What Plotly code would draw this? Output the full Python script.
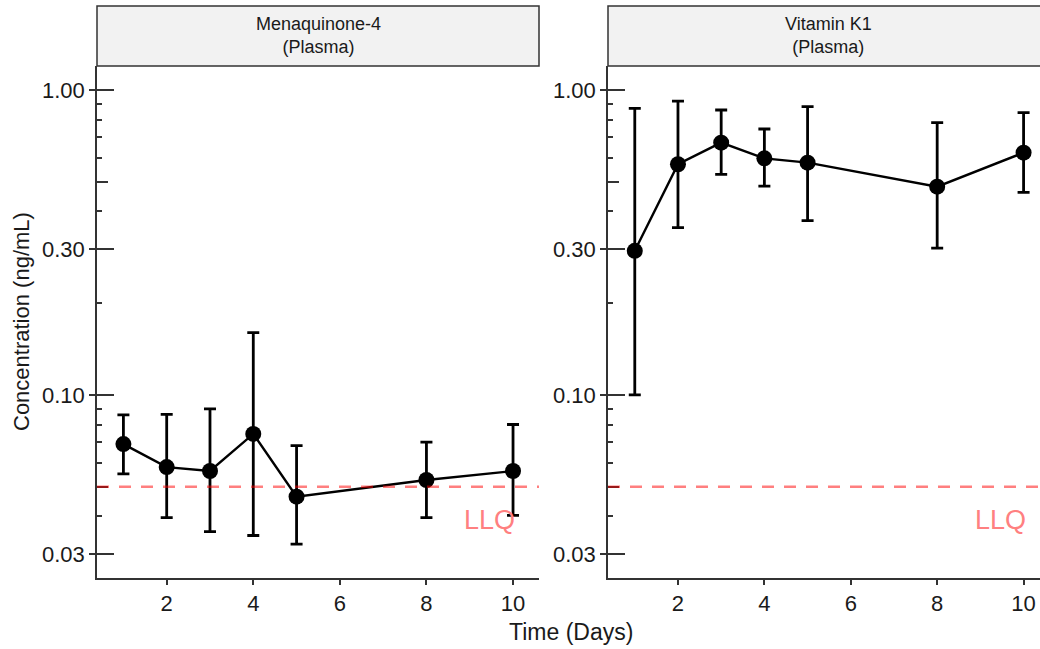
import numpy as np
import plotly.graph_objects as go

# Sampling days
days = [1, 2, 3, 4, 5, 8, 10]

# Menaquinone-4 (plasma): mean and error-bar limits, ng/mL
mk4_mean = [0.069, 0.058, 0.0563, 0.0745, 0.0464, 0.0526, 0.0563]
mk4_low = [0.0551, 0.0396, 0.0356, 0.0346, 0.0324, 0.0396, 0.0403]
mk4_high = [0.086, 0.0863, 0.090, 0.160, 0.0682, 0.070, 0.080]

# Vitamin K1 (plasma): mean and error-bar limits, ng/mL
k1_mean = [0.297, 0.571, 0.672, 0.597, 0.578, 0.482, 0.623]
k1_low = [0.100, 0.354, 0.529, 0.484, 0.373, 0.303, 0.462]
k1_high = [0.871, 0.920, 0.860, 0.745, 0.882, 0.782, 0.843]

# Lower limit of quantification
LLQ = 0.05

panel_titles = ["Menaquinone-4<br>(Plasma)", "Vitamin K1<br>(Plasma)"]
x_ticks = [2, 4, 6, 8, 10]
y_major = [0.03, 0.1, 0.3, 1.0]
y_major_text = ["0.03", "0.10", "0.30", "1.00"]
y_mid = [0.05, 0.5]
y_minor = [0.04, 0.06, 0.07, 0.08, 0.09, 0.2, 0.4, 0.6, 0.7, 0.8, 0.9]

W, H = 1040, 649
AXIS_COLOR = "#333333"
TEXT_COLOR = "#1a1a1a"
LLQ_COLOR = "rgba(255,0,0,0.5)"
FONT = "Liberation Sans, Arial, sans-serif"


def px_x(p):
    return p / W


def px_y(p):
    return 1 - p / H


y_dom = [px_y(578), px_y(66)]
x_doms = [[px_x(97), px_x(539)], [px_x(608), 1.0]]
x_ranges = [[0.39, 10.6], [0.38, 10.38]]
y_range = [np.log10(0.0251), np.log10(1.199)]

fig = go.Figure()

series = [(mk4_mean, mk4_low, mk4_high), (k1_mean, k1_low, k1_high)]
for i, (mean, low, high) in enumerate(series):
    xa = "x" if i == 0 else "x2"
    ya = "y" if i == 0 else "y2"
    mean_a = np.array(mean)
    fig.add_trace(go.Scatter(
        x=days, y=mean, xaxis=xa, yaxis=ya, mode="lines+markers",
        line=dict(color="black", width=2.4),
        marker=dict(color="black", size=16),
        error_y=dict(type="data", symmetric=False,
                     array=np.array(high) - mean_a,
                     arrayminus=mean_a - np.array(low),
                     color="black", thickness=2.8, width=6),
        showlegend=False, cliponaxis=False,
    ))
    # empty trace so the companion tick axis is drawn
    fig.add_trace(go.Scatter(
        x=[], y=[], xaxis=xa, yaxis="y" + str(3 + i), mode="markers",
        showlegend=False, hoverinfo="skip",
    ))

layout = dict(
    width=W, height=H,
    margin=dict(l=0, r=0, t=0, b=0),
    paper_bgcolor="white", plot_bgcolor="white",
    font=dict(family=FONT, color=TEXT_COLOR),
    showlegend=False,
)

for i in range(2):
    sx = "" if i == 0 else "2"
    xname, yname = "xaxis" + sx, "yaxis" + sx
    layout[xname] = dict(
        domain=x_doms[i], range=x_ranges[i], anchor="y" + sx,
        tickmode="array", tickvals=x_ticks,
        ticks="outside", ticklen=5, tickwidth=1.5, tickcolor=AXIS_COLOR,
        showline=True, linecolor=AXIS_COLOR, linewidth=1.5,
        showgrid=False, zeroline=False,
        tickfont=dict(size=22, color=TEXT_COLOR),
    )
    layout[yname] = dict(
        domain=y_dom, type="log", range=y_range, anchor="x" + sx,
        tickmode="array", tickvals=y_major, ticktext=y_major_text,
        ticks="outside", ticklen=6, tickwidth=1.5, tickcolor=AXIS_COLOR,
        minor=dict(tickmode="array", tickvals=y_minor, ticks="inside",
                   ticklen=5, tickwidth=1.5, tickcolor=AXIS_COLOR),
        showline=True, linecolor=AXIS_COLOR, linewidth=1.5,
        showgrid=False, zeroline=False,
        tickfont=dict(size=22, color=TEXT_COLOR),
    )
    # companion axis carrying the inward part of the major and mid ticks
    oname = "yaxis" + str(3 + i)
    layout[oname] = dict(
        overlaying="y" + sx, anchor="x" + sx, side="left",
        type="log", range=y_range,
        tickmode="array", tickvals=y_major, showticklabels=False,
        ticks="inside", ticklen=17, tickwidth=1.5, tickcolor=AXIS_COLOR,
        minor=dict(tickmode="array", tickvals=y_mid, ticks="inside",
                   ticklen=11, tickwidth=1.5, tickcolor=AXIS_COLOR),
        showline=False, showgrid=False, zeroline=False,
    )

fig.update_layout(**layout)

# facet strips
strip_x = [[px_x(97), px_x(539)], [px_x(608), px_x(1049)]]
for i in range(2):
    fig.add_shape(type="rect", xref="paper", yref="paper",
                  x0=strip_x[i][0], x1=strip_x[i][1],
                  y0=y_dom[1], y1=px_y(6),
                  fillcolor="#F2F2F2", line=dict(color=AXIS_COLOR, width=1.5),
                  layer="below")
    fig.add_annotation(xref="paper", yref="paper",
                       x=(strip_x[i][0] + strip_x[i][1]) / 2,
                       y=(y_dom[1] + px_y(6)) / 2,
                       text=panel_titles[i], showarrow=False,
                       font=dict(size=18, color=TEXT_COLOR),
                       xanchor="center", yanchor="middle")

# LLQ reference line and label in each panel
for i in range(2):
    sx = "" if i == 0 else "2"
    fig.add_shape(type="line", xref="x" + sx + " domain", yref="y" + sx,
                  x0=0, x1=1, y0=LLQ, y1=LLQ,
                  line=dict(color=LLQ_COLOR, width=2.6, dash="12px,10px"),
                  layer="above")
    fig.add_annotation(xref="x" + sx, yref="y" + sx,
                       x=10.1, y=np.log10(LLQ), text="LLQ", showarrow=False,
                       xanchor="right", yanchor="middle", yshift=-33,
                       font=dict(size=27, color="#FF8080"))

# axis titles
fig.add_annotation(xref="paper", yref="paper", x=px_x(22),
                   y=(y_dom[0] + y_dom[1]) / 2, text="Concentration (ng/mL)",
                   textangle=-90, showarrow=False,
                   font=dict(size=22, color=TEXT_COLOR),
                   xanchor="center", yanchor="middle")
fig.add_annotation(xref="paper", yref="paper", x=px_x(571), y=px_y(632),
                   text="Time (Days)", showarrow=False,
                   font=dict(size=23, color=TEXT_COLOR),
                   xanchor="center", yanchor="middle")

fig.write_html("out.html")
